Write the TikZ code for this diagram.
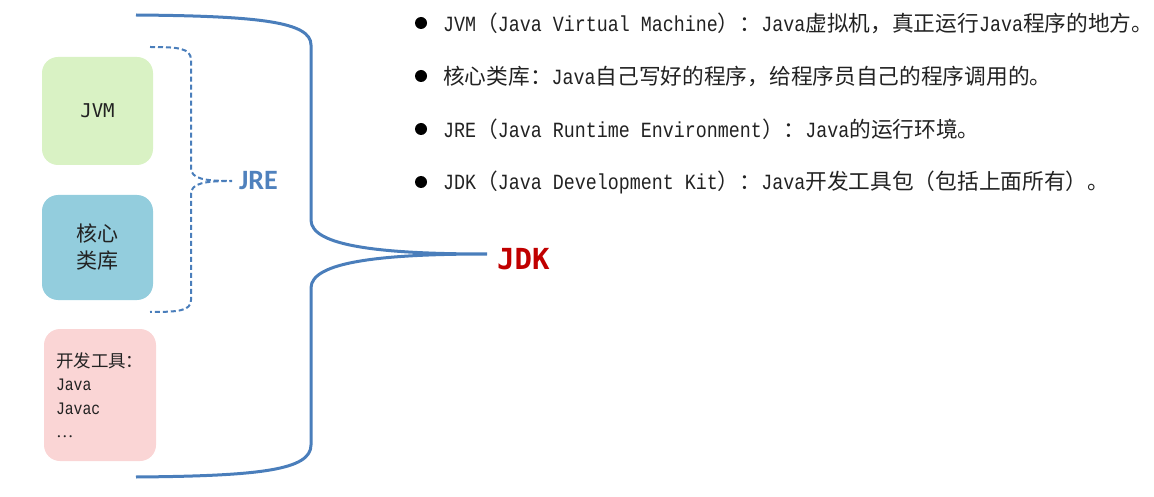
\documentclass[tikz,border=0pt]{standalone}
\usepackage{fontspec}
\setmainfont{Noto Sans CJK SC}
\setmonofont[FakeStretch=0.845]{Liberation Mono}
\newfontfamily\consfont{DejaVu Sans Mono}
\newfontfamily\calfont{Carlito}
\newfontfamily\latinserif{Liberation Serif}
\definecolor{bracecol}{HTML}{4A7EBB}
\definecolor{jreblue}{HTML}{4F81BD}
\definecolor{jdkred}{HTML}{C00000}
\definecolor{jvmgreen}{HTML}{D9F2C4}
\definecolor{libblue}{HTML}{93CDDD}
\definecolor{toolpink}{HTML}{FAD5D5}
\definecolor{ink}{HTML}{222222}
\tikzset{
  part/.style={rounded corners=16pt, inner sep=0pt, minimum width=111pt, text=ink},
  item/.style={anchor=west, inner sep=0pt, text=ink, font=\fontsize{21.7}{26}\selectfont},
  dot/.style={circle, fill=black, inner sep=0pt, minimum size=12pt},
}
\begin{document}
\begin{tikzpicture}[x=1pt,y=-1pt]
                \useasboundingbox (0,0) rectangle (1154,497);
                % the three parts
                \node [part, fill=jvmgreen, minimum height=108pt, font=\consfont\fontsize{19}{22}\selectfont] (jvm) at (97.5,111) {JVM};
                \node [part, fill=libblue, minimum height=105pt, align=center, font=\fontsize{21}{27}\selectfont] (lib) at (97.5,247.5) {核心\\类库};
                \node [part, fill=toolpink, minimum width=112pt, minimum height=132pt, align=left, text width=88pt, inner xsep=12pt, font=\fontsize{17.5}{23.5}\selectfont] (tool) at (100,395) {开发工具：\\\texttt{Java}\\\texttt{Javac}\\{\latinserif …}};
                % labels
                \node [anchor=west, inner sep=0pt, text=jreblue, font=\calfont\bfseries\fontsize{28}{32}\selectfont] (jre) at (239,181) {JRE};
                \node [anchor=west, inner sep=0pt, text=jdkred, font=\consfont\bfseries\fontsize{29}{33}\selectfont] (jdk) at (497,259) {JDK};
                % JRE brace
                \draw [bracecol, line width=2pt, dash pattern=on 5pt off 3pt] (150,47) .. controls (178,47) and (191,48) .. (191,60) -- (191,168) .. controls (191,179) and (205,181) .. (232,181) .. controls (205,181) and (191,183) .. (191,194) -- (191,300) .. controls (191,311) and (178,312) .. (150,312);
                % JDK brace
                \draw [bracecol, line width=3pt] (136,15) .. controls (260,16) and (311,22) .. (311,45) -- (311,220) .. controls (311,246) and (380,254) .. (487,254) .. controls (380,254) and (311,262) .. (311,288) -- (311,445) .. controls (311,470) and (260,476) .. (136,477);
                % notes
                \node [dot] (d1) at (421,23) {};
                \node [item] (n1) at (443,23) {\texttt{JVM}（\texttt{Java Virtual Machine}）：\texttt{Java}虚拟机，真正运行\texttt{Java}程序的地方。};
                \node [dot] (d2) at (421,76) {};
                \node [item] (n2) at (443,76) {核心类库：\texttt{Java}自己写好的程序，给程序员自己的程序调用的。};
                \node [dot] (d3) at (421,129) {};
                \node [item] (n3) at (443,129) {\texttt{JRE}（\texttt{Java Runtime Environment}）：\texttt{Java}的运行环境。};
                \node [dot] (d4) at (421,182) {};
                \node [item] (n4) at (443,182) {\texttt{JDK}（\texttt{Java Development Kit}）：\texttt{Java}开发工具包（包括上面所有）。};
\end{tikzpicture}
\end{document}
